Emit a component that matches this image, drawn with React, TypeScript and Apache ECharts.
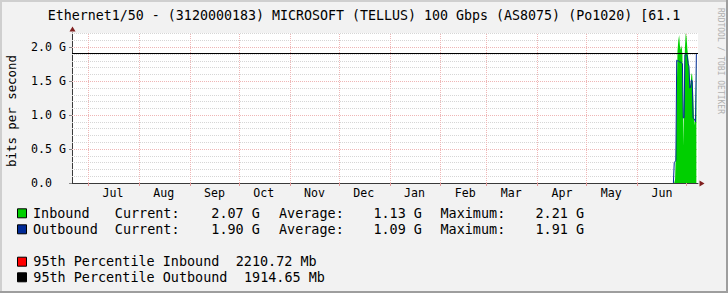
import React, { useEffect, useRef } from 'react';
import * as echarts from 'echarts';

// ---- texts ----
const titleText = 'Ethernet1/50 - (3120000183) MICROSOFT (TELLUS) 100 Gbps (AS8075) (Po1020) [61.1';
const unitLabel = 'bits per second';
const watermarkText = 'RRDTOOL / TOBI OETIKER';

// ---- x axis (days since Jun 21 of the first year) ----
const axisEndDay = 382;
const monthLabels = ['Jul', 'Aug', 'Sep', 'Oct', 'Nov', 'Dec', 'Jan', 'Feb', 'Mar', 'Apr', 'May', 'Jun'];
const monthStartDays = [10, 41, 72, 102, 133, 163, 194, 225, 253, 284, 314, 345, 375];
const labelOffsetDays = 15;

// ---- y axis ----
const yTickValues = [0, 0.5e9, 1.0e9, 1.5e9, 2.0e9];
const yMinorStep = 0.1e9;
const yMax = 2.2107e9;

// ---- series samples (G bits/s), every half day from day 367 ----
const sampleStartDay = 367;
const sampleStepDays = 0.5;
const inboundG = [0, 0, 0.05, 0.45, 1.3, 1.95, 2.1, 2.18, 2.02, 1.96, 2.03, 1.88, 0.55, 1.3, 1.98, 2.21, 2.15, 1.98, 1.85, 1.7, 1.42, 1.45, 1.62, 1.58, 1.35, 0.95, 0.85, 1.05, 1.85];
const outboundG = [0, 0.3, 0.32, 0.33, 1.81, 1.8, 1.8, 1.79, 1.78, 1.78, 1.77, 1.76, 0.96, 0.96, 1.89, 1.9, 1.89, 1.86, 1.76, 1.72, 1.4, 1.41, 1.52, 1.5, 0.96, 0.95, 0.93, 0.9, 1.9];

// ---- legend stats ----
const seriesNames = ['Inbound', 'Outbound'];
const seriesColors = ['#00CF00', '#002A97'];
const currentG = [2.07, 1.9];
const averageG = [1.13, 1.09];
const maximumG = [2.21, 1.91];
const percentileNames = ['95th Percentile Inbound', '95th Percentile Outbound'];
const percentileColors = ['#FF0000', '#000000'];
const percentileMb = [2210.72, 1914.65];

const MONO = '"DejaVu Sans Mono", monospace';

export default function App() {
  const ref = useRef<HTMLDivElement>(null);

  useEffect(() => {
    if (!ref.current) return;
    const chart = echarts.init(ref.current, null, { renderer: 'svg' });

    const monthMidDays = monthStartDays.slice(0, monthLabels.length).map((d) => d + labelOffsetDays);

    const toPoints = (arr: number[]) => arr.map((g, i) => [sampleStartDay + i * sampleStepDays, g * 1e9]);

    const minorStyle = { color: '#d6d6d6', width: 1, type: [1, 1] as any };
    const majorStyle = { color: '#efb6b6', width: 1, type: [1, 1] as any };
    const gridLines: any[] = [];
    const nMinor = Math.floor(yMax / yMinorStep + 1e-6);
    for (let k = 1; k <= nMinor; k++) {
      const v = k * yMinorStep;
      if (yTickValues.some((t) => Math.abs(t - v) < 1)) continue;
      gridLines.push({ yAxis: v, lineStyle: minorStyle });
    }
    yTickValues.slice(1).forEach((v) => gridLines.push({ yAxis: v, lineStyle: majorStyle }));
    monthStartDays.forEach((d) => gridLines.push({ xAxis: d, lineStyle: majorStyle }));

    const legendFont = 13.45;
    const legendText = (text: string, x: number, y: number) => ({
      type: 'text',
      x,
      y,
      z: 100,
      style: { text, fill: '#000', fontSize: legendFont, fontFamily: MONO, align: 'left', verticalAlign: 'middle' },
    });
    const box = (color: string, y: number) => ({
      type: 'rect',
      z: 100,
      shape: { x: 17.5, y: y - 4.5, width: 9, height: 9 },
      style: { fill: color, stroke: '#000', lineWidth: 1 },
    });

    const graphics: any[] = [];
    // frame
    graphics.push({ type: 'rect', z: 100, shape: { x: 0, y: 0, width: 728, height: 2 }, style: { fill: '#CFCFCF' } });
    graphics.push({ type: 'rect', z: 100, shape: { x: 0, y: 0, width: 2, height: 293 }, style: { fill: '#CFCFCF' } });
    graphics.push({ type: 'rect', z: 100, shape: { x: 0, y: 291, width: 728, height: 2 }, style: { fill: '#9E9E9E' } });
    graphics.push({ type: 'rect', z: 100, shape: { x: 726, y: 0, width: 2, height: 293 }, style: { fill: '#9E9E9E' } });
    // title
    graphics.push({
      type: 'text', x: 364, y: 15, z: 100,
      style: { text: titleText, fill: '#000', fontSize: 13.3, fontFamily: MONO, align: 'center', verticalAlign: 'middle' },
    });
    // unit label
    graphics.push({
      type: 'text', x: 11, y: 111, rotation: Math.PI / 2, z: 100,
      style: { text: unitLabel, fill: '#000', fontSize: 12.4, fontFamily: MONO, align: 'center', verticalAlign: 'middle' },
    });
    // watermark
    graphics.push({
      type: 'text', x: 720, y: 61, rotation: -Math.PI / 2, z: 100,
      style: { text: watermarkText, fill: '#b0b0b0', fontSize: 8, fontFamily: MONO, align: 'center', verticalAlign: 'middle' },
    });
    // arrows
    graphics.push({ type: 'polygon', z: 100, shape: { points: [[69.5, 31.5], [75.5, 31.5], [72.5, 26.5]] }, style: { fill: '#801F1F' } });
    graphics.push({ type: 'polygon', z: 100, shape: { points: [[699.5, 180.5], [699.5, 186.5], [704.5, 183.5]] }, style: { fill: '#801F1F' } });

    // legend rows
    const rowY = [213.3, 229.3];
    seriesNames.forEach((name, i) => {
      const y = rowY[i];
      graphics.push(box(seriesColors[i], y));
      graphics.push(legendText(name, 33, y));
      graphics.push(legendText('Current:', 114.8, y));
      graphics.push(legendText(`${currentG[i].toFixed(2)} G`, 211.3, y));
      graphics.push(legendText('Average:', 279, y));
      graphics.push(legendText(`${averageG[i].toFixed(2)} G`, 373.4, y));
      graphics.push(legendText('Maximum:', 440.5, y));
      graphics.push(legendText(`${maximumG[i].toFixed(2)} G`, 535.5, y));
    });
    const pctY = [261.7, 277.3];
    const pctValueX = [235.7, 244];
    percentileNames.forEach((name, i) => {
      const y = pctY[i];
      graphics.push(box(percentileColors[i], y));
      graphics.push(legendText(name, 33.3, y));
      graphics.push(legendText(`${percentileMb[i].toFixed(2)} Mb`, pctValueX[i], y));
    });

    chart.setOption({
      animation: false,
      backgroundColor: '#F2F2F2',
      textStyle: { fontFamily: MONO },
      grid: { left: 72, right: 30, top: 33, bottom: 110, show: true, backgroundColor: '#FFFFFF', borderWidth: 0 },
      xAxis: {
        type: 'value',
        min: 0,
        max: axisEndDay,
        splitLine: { show: false },
        axisLine: { show: true, onZero: false, lineStyle: { color: '#3a3a3a', width: 1 } },
        axisTick: { show: true, customValues: monthStartDays, length: 3, lineStyle: { color: '#e39a9a' } },
        axisLabel: {
          customValues: monthMidDays,
          color: '#000',
          fontSize: 11.6,
          fontFamily: MONO,
          margin: 4,
          formatter: (v: number) => {
            const idx = monthMidDays.indexOf(v);
            return idx >= 0 ? monthLabels[idx] : '';
          },
        },
      },
      yAxis: {
        type: 'value',
        min: 0,
        max: yMax,
        splitLine: { show: false },
        axisLine: { show: true, onZero: false, lineStyle: { color: '#3a3a3a', width: 1 } },
        axisTick: { show: true, customValues: yTickValues, length: 3, lineStyle: { color: '#8a8a8a' } },
        axisLabel: {
          customValues: yTickValues,
          color: '#000',
          fontSize: 11.6,
          fontFamily: MONO,
          margin: 6,
          formatter: (v: number) => (v === 0 ? '0.0\u00a0\u00a0' : `${(v / 1e9).toFixed(1)} G`),
        },
      },
      series: [
        {
          name: 'grid',
          type: 'line',
          data: [],
          silent: true,
          markLine: {
            z: 1,
            silent: true,
            symbol: ['none', 'none'],
            label: { show: false },
            emphasis: { disabled: true },
            animation: false,
            data: gridLines,
          },
        },
        {
          name: seriesNames[0],
          type: 'line',
          z: 2,
          data: toPoints(inboundG),
          symbol: 'none',
          silent: true,
          lineStyle: { width: 0, color: seriesColors[0] },
          areaStyle: { color: seriesColors[0], opacity: 1 },
        },
        {
          name: seriesNames[1],
          type: 'line',
          z: 3,
          data: toPoints(outboundG),
          symbol: 'none',
          silent: true,
          lineStyle: { width: 1, color: seriesColors[1] },
          markLine: {
            silent: true,
            symbol: ['none', 'none'],
            label: { show: false },
            emphasis: { disabled: true },
            animation: false,
            data: [{ yAxis: percentileMb[1] * 1e6, lineStyle: { color: percentileColors[1], width: 1, type: 'solid' } }],
          },
        },
      ],
      graphic: graphics,
    });

    return () => {
      chart.dispose();
    };
  }, []);

  return <div ref={ref} style={{ position: 'absolute', left: 0, top: 0, width: 728, height: 293 }} />;
}
